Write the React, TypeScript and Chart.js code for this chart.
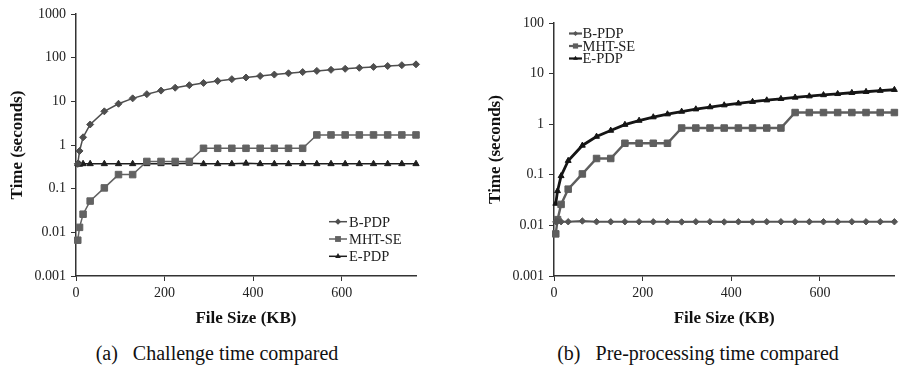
import React, { useEffect, useRef } from "react";
import { Chart, registerables } from "chart.js";

Chart.register(...registerables);

// ---------- data ----------
const fileSizes = [4, 8, 16, 32, 64, 96, 128, 160, 192, 224, 256, 288, 320, 352, 384, 416, 448, 480, 512, 544, 576, 608, 640, 672, 704, 736, 768];
const xTicks = [0, 200, 400, 600];
const yTicksA = [0.001, 0.01, 0.1, 1, 10, 100, 1000];
const yLabelsA = ["0.001", "0.01", "0.1", "1", "10", "100", "1000"];
const yTicksB = [0.001, 0.01, 0.1, 1, 10, 100];
const yLabelsB = ["0.001", "0.01", "0.1", "1", "10", "100"];
const seriesNames = ["B-PDP", "MHT-SE", "E-PDP"];

const challengeBPDP = [0.37, 0.73, 1.5, 2.95, 5.9, 8.8, 11.7, 14.6, 17.6, 20.5, 23.4, 26.4, 29.3, 32.2, 35.1, 38.1, 41.0, 43.9, 46.8, 49.8, 52.7, 55.6, 58.6, 61.5, 64.4, 67.3, 70.3];
const challengeMHT = [0.0066, 0.013, 0.026, 0.052, 0.104, 0.21, 0.21, 0.42, 0.42, 0.42, 0.42, 0.84, 0.84, 0.84, 0.84, 0.84, 0.84, 0.84, 0.84, 1.7, 1.7, 1.7, 1.7, 1.7, 1.7, 1.7, 1.7];
const challengeEPDP = [0.37, 0.36, 0.37, 0.37, 0.37, 0.37, 0.37, 0.37, 0.37, 0.37, 0.38, 0.37, 0.37, 0.37, 0.38, 0.37, 0.37, 0.37, 0.37, 0.37, 0.37, 0.37, 0.37, 0.37, 0.37, 0.37, 0.37];

const preBPDP = [0.0118, 0.012, 0.0118, 0.0118, 0.0122, 0.0118, 0.0118, 0.0118, 0.0118, 0.0118, 0.0118, 0.0117, 0.0118, 0.0118, 0.0117, 0.0118, 0.0117, 0.0118, 0.0118, 0.0118, 0.0118, 0.0118, 0.0118, 0.0118, 0.0118, 0.0118, 0.0118];
const preMHT = [0.0068, 0.013, 0.026, 0.052, 0.104, 0.21, 0.21, 0.42, 0.42, 0.42, 0.42, 0.84, 0.84, 0.84, 0.84, 0.84, 0.84, 0.84, 0.84, 1.7, 1.7, 1.7, 1.7, 1.7, 1.7, 1.7, 1.7];
const preEPDP = [0.027, 0.048, 0.095, 0.19, 0.38, 0.57, 0.75, 0.98, 1.18, 1.38, 1.58, 1.78, 1.98, 2.18, 2.38, 2.58, 2.78, 2.98, 3.18, 3.38, 3.58, 3.78, 3.98, 4.18, 4.38, 4.6, 4.8];

const captionA = "(a)\u2002 Challenge time compared";
const captionB = "(b)\u2002 Pre-processing time compared";
const xTitle = "File Size (KB)";
const yTitle = "Time (seconds)";

const FONT = "'Liberation Serif', 'Times New Roman', serif";

// ---------- helpers ----------
function drawMarker(ctx: CanvasRenderingContext2D, style: string, x: number, y: number, r: number, color: string) {
  ctx.fillStyle = color;
  ctx.beginPath();
  if (style === "rect") {
    const s = r * Math.SQRT1_2;
    ctx.rect(x - s, y - s, 2 * s, 2 * s);
  } else if (style === "rectRot") {
    ctx.moveTo(x, y - r);
    ctx.lineTo(x + r, y);
    ctx.lineTo(x, y + r);
    ctx.lineTo(x - r, y);
    ctx.closePath();
  } else {
    const h = r;
    ctx.moveTo(x, y - h);
    ctx.lineTo(x + h * 0.866, y + h * 0.5);
    ctx.lineTo(x - h * 0.866, y + h * 0.5);
    ctx.closePath();
  }
  ctx.fill();
}

function legendPlugin(cfg: { x: number; y: number; len: number; spacing: number; textX: number; lineWidth: number; scale: number }) {
  return {
    id: "customLegend",
    afterDraw(chart: any) {
      const ctx: CanvasRenderingContext2D = chart.ctx;
      ctx.save();
      chart.data.datasets.forEach((ds: any, i: number) => {
        const y = cfg.y + i * cfg.spacing;
        ctx.strokeStyle = ds.borderColor;
        ctx.lineWidth = cfg.lineWidth;
        ctx.beginPath();
        ctx.moveTo(cfg.x, y);
        ctx.lineTo(cfg.x + cfg.len, y);
        ctx.stroke();
        drawMarker(ctx, ds.pointStyle, cfg.x + cfg.len / 2, y, ds.pointRadius * cfg.scale, ds.borderColor);
        ctx.fillStyle = "#222";
        ctx.font = `14.5px ${FONT}`;
        ctx.textBaseline = "middle";
        ctx.textAlign = "left";
        ctx.fillText(ds.label, cfg.textX, y + 1);
      });
      ctx.restore();
    },
  };
}

function makeDataset(label: string, values: number[], color: string, width: number, style: string, radius: number) {
  return {
    label,
    data: fileSizes.map((x, i) => ({ x, y: values[i] })),
    borderColor: color,
    backgroundColor: color,
    pointBackgroundColor: color,
    pointBorderColor: color,
    borderWidth: width,
    pointStyle: style,
    pointRadius: radius,
    pointBorderWidth: 1,
    tension: 0,
    clip: false as any,
  };
}

function makeOptions(p: {
  yTicks: number[]; yLabels: string[]; yMax: number; yWidth: number; yTitlePad: number; padTop: number; padRight: number;
}) {
  return {
    responsive: false,
    animation: false as const,
    events: [] as any[],
    layout: { padding: { left: 0, top: p.padTop, right: p.padRight, bottom: 0 } },
    plugins: { legend: { display: false }, tooltip: { enabled: false }, title: { display: false } },
    scales: {
      x: {
        type: "linear" as const,
        min: 0,
        max: 768,
        afterBuildTicks: (s: any) => { s.ticks = xTicks.map((v) => ({ value: v })); },
        afterFit: (s: any) => { s.height = 64; },
        grid: { display: true, drawOnChartArea: false, drawTicks: true, tickLength: 5, color: "#333", lineWidth: 1 },
        border: { display: true, color: "#333", width: 1.5 },
        ticks: { padding: 4, color: "#222", font: { family: FONT, size: 14 }, maxRotation: 0, autoSkip: false },
        title: { display: true, text: xTitle, color: "#111", font: { family: FONT, size: 17, weight: "bold" as const }, padding: { top: 0, bottom: 11 } },
      },
      y: {
        type: "logarithmic" as const,
        min: 0.001,
        max: p.yMax,
        afterBuildTicks: (s: any) => { s.ticks = p.yTicks.map((v) => ({ value: v })); },
        afterFit: (s: any) => { s.width = p.yWidth; },
        grid: { display: true, drawOnChartArea: false, drawTicks: true, tickLength: 5, color: "#333", lineWidth: 1 },
        border: { display: true, color: "#333", width: 1.5 },
        ticks: {
          padding: 5, color: "#222", font: { family: FONT, size: 14 }, autoSkip: false,
          callback: (_v: any, i: number) => p.yLabels[i],
        },
        title: { display: true, text: yTitle, color: "#111", font: { family: FONT, size: 17, weight: "bold" as const }, padding: { top: p.yTitlePad, bottom: 0 } },
      },
    },
  };
}

function ChartCanvas({ config, left }: { config: any; left: number }) {
  const ref = useRef<HTMLCanvasElement | null>(null);
  useEffect(() => {
    if (!ref.current) return;
    const chart = new Chart(ref.current, config);
    return () => chart.destroy();
  }, []);
  return (
    <canvas
      ref={ref}
      width={450}
      height={340}
      style={{ position: "absolute", left, top: 0, width: 450, height: 340 }}
    />
  );
}

export default function App() {
  const configA = {
    type: "line",
    data: {
      datasets: [
        makeDataset(seriesNames[0], challengeBPDP, "#4e4e4e", 1.5, "rectRot", 3.5),
        makeDataset(seriesNames[1], challengeMHT, "#626262", 1.5, "rect", 4.6),
        makeDataset(seriesNames[2], challengeEPDP, "#1e1e1e", 1.5, "triangle", 3.6),
      ],
    },
    options: makeOptions({ yTicks: yTicksA, yLabels: yLabelsA, yMax: 1000, yWidth: 76, yTitlePad: 7, padTop: 14, padRight: 34 }),
    plugins: [legendPlugin({ x: 329, y: 221.7, len: 18, spacing: 17.3, textX: 349, lineWidth: 1.5, scale: 0.9 })],
  };
  const configB = {
    type: "line",
    data: {
      datasets: [
        makeDataset(seriesNames[0], preBPDP, "#555555", 2.2, "rectRot", 3.2),
        makeDataset(seriesNames[1], preMHT, "#5e5e5e", 2.4, "rect", 4.6),
        makeDataset(seriesNames[2], preEPDP, "#151515", 2.8, "triangle", 3.4),
      ],
    },
    options: makeOptions({ yTicks: yTicksB, yLabels: yLabelsB, yMax: 100, yWidth: 104, yTitlePad: 35, padTop: 23, padRight: 0 }),
    plugins: [legendPlugin({ x: 119, y: 33.5, len: 13, spacing: 12.5, textX: 132.5, lineWidth: 2.2, scale: 0.8 })],
  };

  const captionStyle: React.CSSProperties = {
    position: "absolute",
    top: 341,
    fontFamily: FONT,
    fontSize: 20,
    lineHeight: "24px",
    color: "#111",
    textAlign: "center",
    whiteSpace: "pre",
  };

  return (
    <div style={{ position: "absolute", left: 0, top: 0, width: 900, height: 369, background: "#fff", overflow: "hidden" }}>
      <ChartCanvas config={configA} left={0} />
      <ChartCanvas config={configB} left={450} />
      <div style={{ ...captionStyle, left: 17, width: 400 }}>{captionA}</div>
      <div style={{ ...captionStyle, left: 498, width: 400 }}>{captionB}</div>
    </div>
  );
}
